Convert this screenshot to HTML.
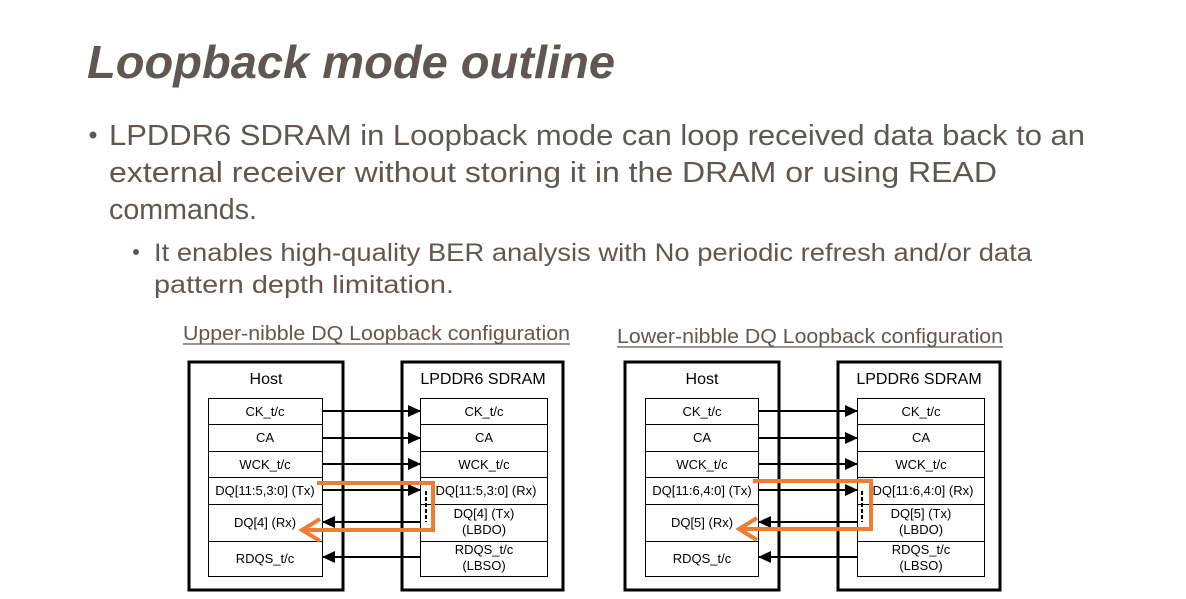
<!DOCTYPE html>
<html><head><meta charset="utf-8"><style>
html,body{margin:0;padding:0;background:#fff;}
svg{display:block;}
.t{font-family:"Liberation Sans",sans-serif;fill:#5f5753;}
.d{font-family:"Liberation Sans",sans-serif;fill:#000;font-size:13px;text-anchor:middle;}
.h{font-size:16px;}
</style></head><body>
<svg width="1186" height="599" viewBox="0 0 1186 599" xmlns="http://www.w3.org/2000/svg">
<defs>
<marker id="ah" markerWidth="13" markerHeight="12" refX="12" refY="6" orient="auto" markerUnits="userSpaceOnUse"><path d="M0,0 L13,6 L0,12 z" fill="#000"/></marker>
</defs>
<text class="t" x="87" y="78" font-size="46" font-weight="bold" font-style="italic" textLength="528" lengthAdjust="spacingAndGlyphs">Loopback mode outline</text>
<circle cx="93" cy="135" r="3.5" fill="#5f5753"/>
<text class="t" x="109" y="145" font-size="29" textLength="976" lengthAdjust="spacingAndGlyphs">LPDDR6 SDRAM in Loopback mode can loop received data back to an</text>
<text class="t" x="109" y="182" font-size="29" textLength="888" lengthAdjust="spacingAndGlyphs">external receiver without storing it in the DRAM or using READ</text>
<text class="t" x="109" y="219" font-size="29" textLength="148" lengthAdjust="spacingAndGlyphs">commands.</text>
<circle cx="136" cy="252" r="3" fill="#5f5753"/>
<text class="t" x="154" y="261" font-size="25" textLength="878" lengthAdjust="spacingAndGlyphs">It enables high-quality BER analysis with No periodic refresh and/or data</text>
<text class="t" x="154" y="293" font-size="25" textLength="300" lengthAdjust="spacingAndGlyphs">pattern depth limitation.</text>
<text class="t" x="183" y="340" font-size="20" textLength="387" lengthAdjust="spacingAndGlyphs">Upper-nibble DQ Loopback configuration</text>
<line x1="183" y1="344" x2="570" y2="344" stroke="#5f5753" stroke-width="1.3"/>
<text class="t" x="617" y="343" font-size="20" textLength="386" lengthAdjust="spacingAndGlyphs">Lower-nibble DQ Loopback configuration</text>
<line x1="617" y1="347" x2="1003" y2="347" stroke="#5f5753" stroke-width="1.3"/>

<!-- LEFT DIAGRAM -->
<g>
<rect x="189" y="362" width="154" height="228" fill="none" stroke="#000" stroke-width="3"/>
<rect x="402" y="362" width="161" height="228" fill="none" stroke="#000" stroke-width="3"/>
<text class="d h" x="266" y="384">Host</text>
<text class="d h" x="483" y="384">LPDDR6 SDRAM</text>
<g fill="#fff" stroke="#000" stroke-width="1">
<rect x="208.5" y="398.5" width="114" height="26"/><rect x="208.5" y="424.5" width="114" height="27"/><rect x="208.5" y="451.5" width="114" height="26"/><rect x="208.5" y="477.5" width="114" height="27"/><rect x="208.5" y="504.5" width="114" height="37"/><rect x="208.5" y="541.5" width="114" height="35"/>
<rect x="420.5" y="398.5" width="127" height="26"/><rect x="420.5" y="424.5" width="127" height="27"/><rect x="420.5" y="451.5" width="127" height="26"/><rect x="420.5" y="477.5" width="127" height="27"/><rect x="420.5" y="504.5" width="127" height="37"/><rect x="420.5" y="541.5" width="127" height="35"/>
</g>
<text class="d" x="265" y="416">CK_t/c</text><text class="d" x="265" y="442">CA</text><text class="d" x="265" y="469">WCK_t/c</text><text class="d" x="265" y="495">DQ[11:5,3:0] (Tx)</text><text class="d" x="265" y="527">DQ[4] (Rx)</text><text class="d" x="265" y="563">RDQS_t/c</text>
<text class="d" x="484" y="416">CK_t/c</text><text class="d" x="484" y="442">CA</text><text class="d" x="484" y="469">WCK_t/c</text><text class="d" x="486" y="495">DQ[11:5,3:0] (Rx)</text><text class="d" x="484" y="518">DQ[4] (Tx)</text><text class="d" x="484" y="534">(LBDO)</text><text class="d" x="484" y="554">RDQS_t/c</text><text class="d" x="484" y="570">(LBSO)</text>
<g stroke="#000" stroke-width="2" marker-end="url(#ah)">
<line x1="323" y1="411" x2="420" y2="411"/><line x1="323" y1="438" x2="420" y2="438"/><line x1="323" y1="464" x2="420" y2="464"/><line x1="323" y1="490" x2="420" y2="490"/>
<line x1="420" y1="522" x2="323" y2="522"/><line x1="420" y1="557" x2="323" y2="557"/>
</g>
<line x1="426" y1="491" x2="426" y2="522" stroke="#000" stroke-width="2" stroke-dasharray="4,2"/>
<polyline points="317,483 433,483 433,530 306,530" fill="none" stroke="#ed7d31" stroke-width="4"/>
<polyline points="320,519 302,530 320,541" fill="none" stroke="#ed7d31" stroke-width="4"/>
</g>

<!-- RIGHT DIAGRAM -->
<g>
<rect x="625" y="362" width="154" height="228" fill="none" stroke="#000" stroke-width="3"/>
<rect x="838" y="362" width="162" height="228" fill="none" stroke="#000" stroke-width="3"/>
<text class="d h" x="702" y="384">Host</text>
<text class="d h" x="919" y="384">LPDDR6 SDRAM</text>
<g fill="#fff" stroke="#000" stroke-width="1">
<rect x="645.5" y="398.5" width="113" height="26"/><rect x="645.5" y="424.5" width="113" height="27"/><rect x="645.5" y="451.5" width="113" height="26"/><rect x="645.5" y="477.5" width="113" height="27"/><rect x="645.5" y="504.5" width="113" height="37"/><rect x="645.5" y="541.5" width="113" height="35"/>
<rect x="857.5" y="398.5" width="127" height="26"/><rect x="857.5" y="424.5" width="127" height="27"/><rect x="857.5" y="451.5" width="127" height="26"/><rect x="857.5" y="477.5" width="127" height="27"/><rect x="857.5" y="504.5" width="127" height="37"/><rect x="857.5" y="541.5" width="127" height="35"/>
</g>
<text class="d" x="702" y="416">CK_t/c</text><text class="d" x="702" y="442">CA</text><text class="d" x="702" y="469">WCK_t/c</text><text class="d" x="702" y="495">DQ[11:6,4:0] (Tx)</text><text class="d" x="702" y="527">DQ[5] (Rx)</text><text class="d" x="702" y="563">RDQS_t/c</text>
<text class="d" x="921" y="416">CK_t/c</text><text class="d" x="921" y="442">CA</text><text class="d" x="921" y="469">WCK_t/c</text><text class="d" x="923" y="495">DQ[11:6,4:0] (Rx)</text><text class="d" x="921" y="518">DQ[5] (Tx)</text><text class="d" x="921" y="534">(LBDO)</text><text class="d" x="921" y="554">RDQS_t/c</text><text class="d" x="921" y="570">(LBSO)</text>
<g stroke="#000" stroke-width="2" marker-end="url(#ah)">
<line x1="759" y1="411" x2="857" y2="411"/><line x1="759" y1="438" x2="857" y2="438"/><line x1="759" y1="464" x2="857" y2="464"/><line x1="759" y1="490" x2="857" y2="490"/>
<line x1="857" y1="522" x2="759" y2="522"/><line x1="857" y1="557" x2="759" y2="557"/>
</g>
<line x1="862" y1="491" x2="862" y2="522" stroke="#000" stroke-width="2" stroke-dasharray="4,2"/>
<polyline points="753,481 871,481 871,529 742,529" fill="none" stroke="#ed7d31" stroke-width="4"/>
<polyline points="757,518 739,529 757,540" fill="none" stroke="#ed7d31" stroke-width="4"/>
</g>
</svg>
</body></html>
